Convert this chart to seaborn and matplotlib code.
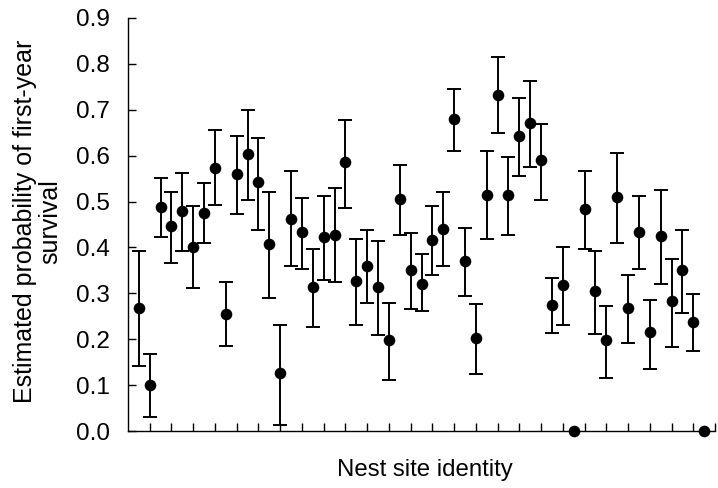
import numpy as np
import pandas as pd
import matplotlib
matplotlib.use("Agg")
import matplotlib.pyplot as plt
import seaborn as sns

nan = np.nan
site = list(range(1, 54))
estimate = [0.267, 0.100, 0.489, 0.446, 0.480, 0.402, 0.476, 0.574, 0.254, 0.561, 0.604, 0.543, 0.407, 0.127,
            0.462, 0.433, 0.314, 0.423, 0.428, 0.586, 0.327, 0.360, 0.313, 0.199, 0.505, 0.351, 0.321, 0.416,
            0.441, 0.680, 0.370, 0.203, 0.514, 0.732, 0.514, 0.642, 0.672, 0.591, 0.275, 0.318, 0.0,
            0.484, 0.305, 0.199, 0.509, 0.267, 0.433, 0.215, 0.424, 0.284, 0.351, 0.237, 0.0]
upper = [0.392, 0.167, 0.551, 0.520, 0.563, 0.491, 0.541, 0.657, 0.324, 0.643, 0.699, 0.639, 0.521, 0.230,
         0.567, 0.507, 0.397, 0.512, 0.529, 0.678, 0.418, 0.439, 0.413, 0.280, 0.580, 0.431, 0.385, 0.491,
         0.520, 0.746, 0.443, 0.277, 0.610, 0.815, 0.597, 0.725, 0.763, 0.670, 0.333, 0.400, nan,
         0.567, 0.393, 0.272, 0.606, 0.341, 0.512, 0.286, 0.525, 0.375, 0.439, 0.298, nan]
lower = [0.141, 0.030, 0.422, 0.367, 0.392, 0.311, 0.409, 0.492, 0.185, 0.473, 0.503, 0.439, 0.290, 0.013,
         0.359, 0.354, 0.227, 0.330, 0.325, 0.486, 0.230, 0.278, 0.209, 0.111, 0.427, 0.265, 0.261, 0.341,
         0.359, 0.610, 0.294, 0.125, 0.418, 0.649, 0.427, 0.555, 0.575, 0.503, 0.213, 0.230, nan,
         0.397, 0.212, 0.115, 0.409, 0.192, 0.354, 0.136, 0.320, 0.184, 0.257, 0.175, nan]
yticks = [0.0, 0.1, 0.2, 0.3, 0.4, 0.5, 0.6, 0.7, 0.8, 0.9]

df = pd.DataFrame({"site": site, "est": estimate, "up": upper, "lo": lower})

sns.set_style("ticks")
plt.rcParams["font.family"] = ["Liberation Sans", "DejaVu Sans"]
plt.rcParams.update({"text.color": "black", "axes.labelcolor": "black",
                     "xtick.color": "black", "ytick.color": "black"})

fig = plt.figure(figsize=(7.18, 4.88), dpi=100)
ax = fig.add_axes([128 / 718, 1 - 431 / 488, (715 - 128) / 718, (431 - 18) / 488])

eb = df.dropna()
ax.errorbar(eb["site"], eb["est"], yerr=[eb["est"] - eb["lo"], eb["up"] - eb["est"]],
            fmt="none", ecolor="black", elinewidth=1.4, capsize=4.7, capthick=1.4, zorder=2)
sns.scatterplot(data=df, x="site", y="est", ax=ax, color="black", s=70, edgecolor="black",
                linewidth=0, zorder=3, clip_on=False, legend=False)

ax.set_xlim(0, 54)
ax.set_ylim(0, 0.9)
ax.set_xticks(np.arange(2, 55, 2))
ax.set_xticklabels([])
ax.set_yticks(yticks)
ax.set_yticklabels([f"{v:.1f}" for v in yticks])
ax.tick_params(axis="both", direction="in", length=6, width=1, color="black",
               labelcolor="black", labelsize=17.5)
ax.tick_params(axis="y", pad=13)
sns.despine(ax=ax)
for s in ["left", "bottom"]:
    ax.spines[s].set_linewidth(1)
    ax.spines[s].set_color("black")

ax.set_xlabel("Nest site identity", fontsize=17.3, color="black")
ax.xaxis.set_label_coords(0.506, -0.068)
ax.set_ylabel("Estimated probability of first-year\nsurvival", fontsize=18, linespacing=1.05, color="black")
ax.yaxis.set_label_coords(-0.112, 0.508)

fig.savefig("out.png", dpi=100)
